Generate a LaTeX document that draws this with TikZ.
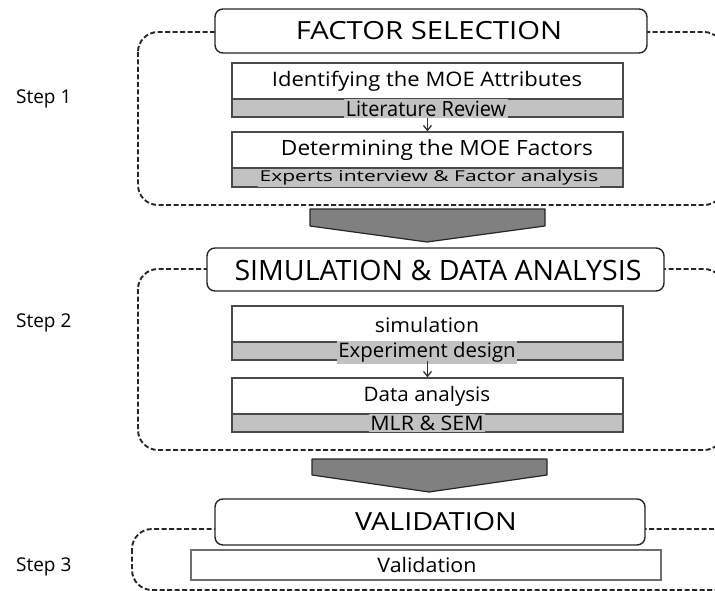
\documentclass[tikz,border=0pt]{standalone}
\usepackage{fontspec}
\usepackage{graphicx}
\setmainfont{Open Sans}
\usetikzlibrary{arrows.meta}
\definecolor{barg}{HTML}{C2C2C2}
\definecolor{arrg}{HTML}{808080}
\definecolor{edgec}{HTML}{4A4A4A}
\newcommand\fsz[1]{\fontsize{#1}{#1}\selectfont}
\newcommand\sx[3]{\scalebox{#1}[1]{\fsz{#2}#3}}
\begin{document}
\begin{tikzpicture}[x=1pt,y=-1pt,
 dashbox/.style={draw=black!85, line width=1.9pt, dash pattern=on 5pt off 2.5pt, rounded corners=20pt},
 headbox/.style={draw=black!85, line width=1.4pt, rounded corners=8pt, fill=white, inner sep=0pt},
 wbox/.style={draw=edgec, line width=1.2pt, fill=white, inner sep=0pt},
 gbar/.style={draw=edgec, line width=1.2pt, fill=barg, inner sep=0pt},
 glabel/.style={fill=barg, inner xsep=1.5pt, inner ysep=1.5pt},
 lab/.style={inner sep=0pt},
 bigarrow/.style={draw=black!85, line width=1.2pt, fill=arrg, line join=round},
 smallarr/.style={-{Straight Barb[length=5pt,width=8pt]}, line width=1.3pt, draw=black!80}
]
\path[use as bounding box] (0,0) rectangle (715,591);
\clip (0,0) rectangle (715,591);

% dashed group frames
\draw[dashbox] (138,32) rectangle (724,205);
\draw[dashbox] (138,269) rectangle (724,450);
\draw[dashbox] (132,529) rectangle (760,590);

% ---------- Step 1 ----------
\node[headbox, minimum width=432, minimum height=44] (h1) at (431,31) {};
\node[lab] (h1t) at (429,31) {\sx{1.17}{25}{FACTOR SELECTION}};

\node[wbox, minimum width=391, minimum height=36] (b1) at (427.5,81) {};
\node[lab] (b1t) at (427,81) {\sx{1.1}{20}{Identifying the MOE Attributes}};
\node[gbar, minimum width=391, minimum height=18] (g1) at (427.5,108) {};
\node[glabel] (g1t) at (426,108.5) {\sx{0.95}{21}{Literature Review}};

\node[wbox, minimum width=391, minimum height=36] (b2) at (427.5,150) {};
\node[lab] (b2t) at (437,150) {\sx{1.08}{21}{Determining the MOE Factors}};
\node[gbar, minimum width=391, minimum height=19] (g2) at (427.5,177.5) {};
\node[glabel] (g2t) at (429,178) {\sx{1.4}{15}{Experts interview \& Factor analysis}};

\draw[smallarr] (g1.south) -- (b2.north);

% big arrow 1
\draw[bigarrow] (310,209) -- (545,209) -- (545,226) -- (427,242) -- (310,226) -- cycle;

% ---------- Step 2 ----------
\node[headbox, minimum width=457, minimum height=43] (h2) at (435.5,269.5) {};
\node[lab] (h2t) at (438,270) {\sx{1.02}{28}{SIMULATION \& DATA ANALYSIS}};

\node[wbox, minimum width=391, minimum height=36] (b3) at (427.5,324) {};
\node[lab] (b3t) at (427,325) {\sx{1.06}{20}{simulation}};
\node[gbar, minimum width=391, minimum height=18] (g3) at (427.5,351) {};
\node[glabel] (g3t) at (427,352) {\sx{1.02}{20}{Experiment design}};

\node[wbox, minimum width=391, minimum height=36] (b4) at (427.5,396) {};
\node[lab] (b4t) at (427,396) {\sx{1.03}{20}{Data analysis}};
\node[gbar, minimum width=391, minimum height=18] (g4) at (427.5,423) {};
\node[glabel] (g4t) at (427,423) {\sx{1.07}{20}{MLR \& SEM}};

\draw[smallarr] (g3.south) -- (b4.north);

% big arrow 2
\draw[bigarrow] (312,459) -- (547,459) -- (547,475) -- (429,492) -- (312,475) -- cycle;

% ---------- Step 3 ----------
\node[headbox, minimum width=430, minimum height=46] (h3) at (430,522) {};
\node[lab] (h3t) at (436,522) {\sx{1.15}{25}{VALIDATION}};
\node[wbox, minimum width=470, minimum height=30, draw=edgec!80] (v1) at (426,565) {};
\node[lab] (v1t) at (427,565) {\sx{1.07}{20}{Validation}};

% step labels
\node[lab, anchor=west] (s1) at (16,99) {\fsz{19}Step 1};
\node[lab, anchor=west] (s2) at (16,323) {\fsz{19}Step 2};
\node[lab, anchor=west] (s3) at (16,567) {\fsz{19}Step 3};
\end{tikzpicture}
\end{document}
